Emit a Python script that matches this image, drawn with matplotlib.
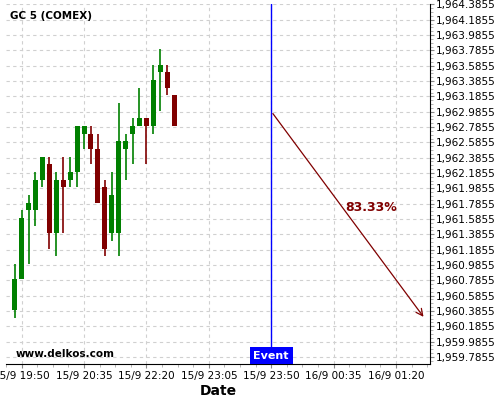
import numpy as np
import matplotlib
matplotlib.use("Agg")
import matplotlib.pyplot as plt
from matplotlib.ticker import FuncFormatter, AutoMinorLocator

# 5 minute candles, GC (COMEX)
opens  = [1960.4, 1960.8, 1961.7, 1961.7, 1962.1, 1962.3, 1961.4, 1962.1, 1962.1, 1962.2, 1962.7, 1962.7,
          1962.5, 1962.0, 1961.4, 1961.4, 1962.5, 1962.7, 1962.8, 1962.9, 1962.8, 1963.5, 1963.5, 1963.2]
highs  = [1961.0, 1961.7, 1961.9, 1962.2, 1962.4, 1962.4, 1962.2, 1962.4, 1962.4, 1962.8, 1962.8, 1962.8,
          1962.7, 1962.1, 1962.2, 1963.1, 1962.7, 1962.9, 1963.3, 1962.9, 1963.6, 1963.8, 1963.6, 1963.2]
lows   = [1960.3, 1960.8, 1961.0, 1961.5, 1962.0, 1961.2, 1961.1, 1961.4, 1962.0, 1962.0, 1962.5, 1962.3,
          1961.8, 1961.1, 1961.3, 1961.1, 1962.1, 1962.3, 1962.8, 1962.3, 1962.7, 1963.0, 1963.2, 1962.8]
closes = [1960.8, 1961.6, 1961.8, 1962.1, 1962.4, 1961.4, 1962.1, 1962.0, 1962.2, 1962.8, 1962.8, 1962.5,
          1961.8, 1961.2, 1961.9, 1962.6, 1962.6, 1962.8, 1962.9, 1962.8, 1963.4, 1963.6, 1963.3, 1962.8]

tick_pos = [1, 10, 19, 28, 37, 46, 55]
tick_labels = ['15/9 19:50', '15/9 20:35', '15/9 22:20', '15/9 23:05',
               '15/9 23:50', '16/9 00:35', '16/9 01:20']

event_x = 37
arrow_start = (37, 1962.99)
arrow_end = (59.2, 1960.28)
prob_text = '83.33%'

y_min, y_max = 1959.694, 1964.39
x_min, x_max = -0.65, 59.9

green = '#008000'
red = '#800000'

fig = plt.figure(figsize=(5, 4), dpi=100)
ax = fig.add_axes([0.012, 0.09, 0.848, 0.90])

for i in range(len(opens)):
    o, h, l, c = opens[i], highs[i], lows[i], closes[i]
    col = green if c >= o else red
    ax.vlines(i, l, h, color=col, lw=1.2, zorder=3)
    ax.bar(i, abs(c - o), bottom=min(o, c), width=0.72, color=col, zorder=4, linewidth=0)

ax.set_xlim(x_min, x_max)
ax.set_ylim(y_min, y_max)

# axes: only bottom and right
ax.spines['left'].set_visible(False)
ax.spines['top'].set_visible(False)
ax.yaxis.tick_right()
ax.yaxis.set_label_position('right')

# ticks anchored at ...x.x855
ax.set_yticks(np.arange(1959.7855, 1964.40, 0.2))
ax.yaxis.set_minor_locator(AutoMinorLocator(4))
ax.yaxis.set_major_formatter(FuncFormatter(lambda v, p: '{:,.4f}'.format(v)))

ax.set_xticks(tick_pos)
ax.set_xticklabels(tick_labels)
ax.set_xticks(np.arange(tick_pos[0] - 2.25, x_max, 2.25), minor=True)

ax.tick_params(axis='both', which='major', labelsize=7.5, length=3, color='#888888')
ax.tick_params(axis='both', which='minor', length=2, color='#aaaaaa')
ax.tick_params(axis='x', pad=2)
ax.tick_params(axis='y', pad=1)

ax.grid(True, which='major', color='#d0d0d0', linestyle=(0, (3, 3)), linewidth=0.8, zorder=0)
ax.set_axisbelow(True)

ax.set_xlabel('Date', fontsize=10, fontweight='bold', labelpad=2)

# event line and label
ax.axvline(event_x, color='blue', lw=1, zorder=2)
ax.text(event_x, y_min + 0.045, 'Event', color='white', fontsize=8, fontweight='bold',
        ha='center', va='bottom', zorder=6,
        bbox=dict(boxstyle='square,pad=0.35', facecolor='blue', edgecolor='none'))

# projection arrow
ax.annotate('', xy=arrow_end, xytext=arrow_start,
            arrowprops=dict(arrowstyle='->', color=red, lw=0.9, mutation_scale=12), zorder=5)
ax.text(51.36, 1961.741, prob_text, color=red, fontsize=9, fontweight='bold',
        ha='center', va='center', zorder=6)

ax.text(0.01, 0.967, 'GC 5 (COMEX)', transform=ax.transAxes, fontsize=7.5,
        fontweight='bold', ha='left', va='center')
ax.text(0.022, 0.028, 'www.delkos.com', transform=ax.transAxes, fontsize=7.5,
        fontweight='bold', ha='left', va='center')

plt.savefig('out.png', dpi=100)
